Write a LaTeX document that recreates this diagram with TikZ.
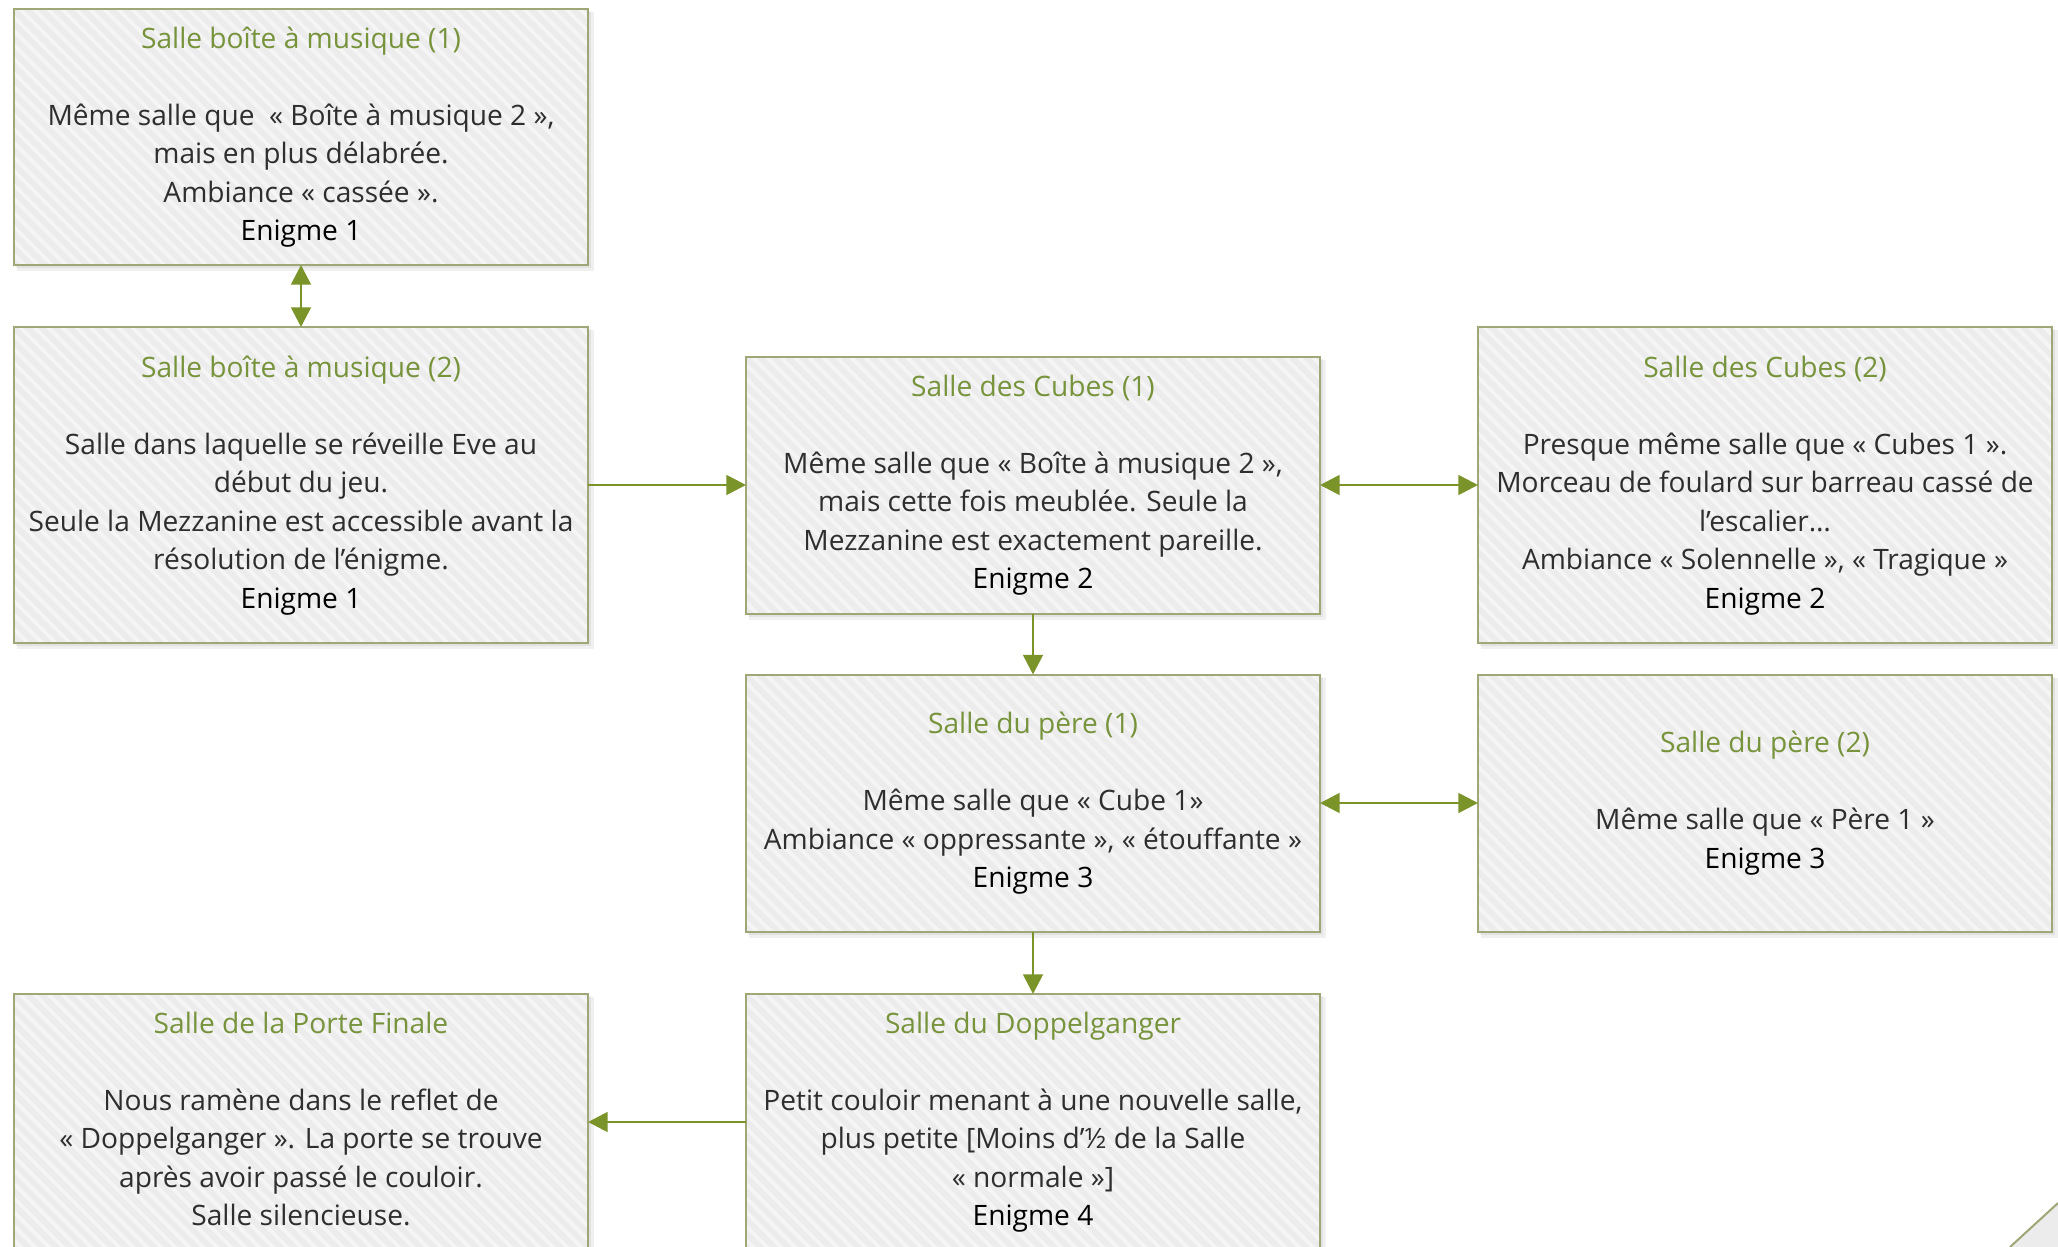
\documentclass[tikz,border=0pt]{standalone}
\usepackage{fontspec}
\setmainfont{Open Sans}
\usetikzlibrary{arrows.meta}
\makeatletter
\providecommand\tikzscope@linewidth{0.4pt}
\makeatother
\definecolor{roomborder}{RGB}{158,167,117}
\definecolor{roomfill}{RGB}{236,236,236}
\definecolor{stripe}{RGB}{245,245,245}
\definecolor{titlec}{RGB}{119,147,60}
\definecolor{arrowc}{RGB}{122,148,42}
\newcommand\enig[1]{\color{black}#1}
\newcommand\ttl[1]{\color{titlec}#1}
% background of a room: centre x, centre y, half width, half height (cm)
\newcommand\roombg[4]{%
  \fill[black, opacity=0.06] (#1-#3+0.03,#2+#4-0.03) rectangle (#1+#3+0.06,#2-#4-0.06);
  \fill[black, opacity=0.06] (#1-#3+0.02,#2+#4-0.02) rectangle (#1+#3+0.03,#2-#4-0.03);
  \fill[roomfill] (#1-#3,#2-#4) rectangle (#1+#3,#2+#4);
  \begin{scope}
    \clip (#1-#3,#2-#4) rectangle (#1+#3,#2+#4);
    \foreach \k in {-3.3,-3.16,...,5.9} {
      \draw[stripeline] (#1-#3+\k,#2+#4) -- ++(3.4,-3.4);
    }
  \end{scope}}
\tikzset{
  room/.style={draw=roomborder, line width=0.57pt, inner sep=0pt, outer sep=0pt,
    minimum width=5.74cm, minimum height=2.56cm, text=black!82,
    font=\fontsize{8}{10.95}\selectfont},
  tallroom/.style={room, minimum height=3.16cm},
  conn/.style={draw=arrowc, line width=0.8pt, -{Triangle[length=5.6pt,width=5.6pt]}},
  biconn/.style={draw=arrowc, line width=0.8pt, {Triangle[length=5.6pt,width=5.6pt]}-{Triangle[length=5.6pt,width=5.6pt]}},
  stripeline/.style={draw=stripe, line width=1.1pt}
}
\begin{document}
\begin{tikzpicture}
\useasboundingbox (0,0) rectangle (20.58,-12.47);
\begin{scope}
\roombg{3.01}{-1.37}{2.87}{1.28}
\roombg{3.01}{-4.85}{2.87}{1.58}
\roombg{10.33}{-4.85}{2.87}{1.285}
\roombg{17.65}{-4.85}{2.87}{1.58}
\roombg{10.33}{-8.03}{2.87}{1.285}
\roombg{17.65}{-8.03}{2.87}{1.285}
\roombg{3.01}{-11.22}{2.87}{1.28}
\roombg{10.33}{-11.22}{2.87}{1.28}
\node[room] (A) at (3.01,-1.37) {\begin{tabular}{@{}c@{}}\ttl{Salle boîte à musique (1)}\\ \\ Même salle que~ « Boîte à musique 2 »,\\ mais en plus délabrée.\\ Ambiance « cassée ».\\ \enig{Enigme 1}\end{tabular}};
\node[tallroom] (B) at (3.01,-4.85) {\begin{tabular}{@{}c@{}}\ttl{Salle boîte à musique (2)}\\ \\ Salle dans laquelle se réveille Eve au\\ début du jeu.\\ Seule la Mezzanine est accessible avant la\\ résolution de l’énigme.\\ \enig{Enigme 1}\end{tabular}};
\node[room, minimum height=2.57cm] (C) at (10.33,-4.85) {\begin{tabular}{@{}c@{}}\ttl{Salle des Cubes (1)}\\ \\ Même salle que « Boîte à musique 2 »,\\ mais cette fois meublée. Seule la\\ Mezzanine est exactement pareille.\\ \enig{Enigme 2}\end{tabular}};
\node[tallroom] (D) at (17.65,-4.85) {\begin{tabular}{@{}c@{}}\ttl{Salle des Cubes (2)}\\ \\ Presque même salle que « Cubes 1 ».\\ Morceau de foulard sur barreau cassé de\\ l’escalier…\\ Ambiance « Solennelle », « Tragique »\\ \enig{Enigme 2}\end{tabular}};
\node[room, minimum height=2.57cm] (E) at (10.33,-8.03) {\begin{tabular}{@{}c@{}}\ttl{Salle du père (1)}\\ \\ Même salle que « Cube 1»\\ Ambiance « oppressante », « étouffante »\\ \enig{Enigme 3}\end{tabular}};
\node[room, minimum height=2.57cm] (F) at (17.65,-8.03) {\begin{tabular}{@{}c@{}}\ttl{Salle du père (2)}\\ \\ Même salle que « Père 1 »\\ \enig{Enigme 3}\end{tabular}};
\node[room] (G) at (3.01,-11.22) {\begin{tabular}{@{}c@{}}\ttl{Salle de la Porte Finale}\\ \\ Nous ramène dans le reflet de\\ « Doppelganger ». La porte se trouve\\ après avoir passé le couloir.\\ Salle silencieuse.\end{tabular}};
\node[room] (H) at (10.33,-11.22) {\begin{tabular}{@{}c@{}}\ttl{Salle du Doppelganger}\\ \\ Petit couloir menant à une nouvelle salle,\\ plus petite [Moins d’½ de la Salle\\ « normale »]\\ \enig{Enigme 4}\end{tabular}};
\draw[biconn] (A) -- (B);
\draw[conn] (B) -- (C);
\draw[biconn] (C) -- (D);
\draw[conn] (C) -- (E);
\draw[biconn] (E) -- (F);
\draw[conn] (E) -- (H);
\draw[conn] (H) -- (G);
\fill[roomfill] (20.10,-12.47) -- (20.58,-12.03) -- (20.58,-12.47) -- cycle;
\draw[roomborder, line width=0.57pt] (20.10,-12.47) -- (20.58,-12.03);
\end{scope}
\end{tikzpicture}
\end{document}
